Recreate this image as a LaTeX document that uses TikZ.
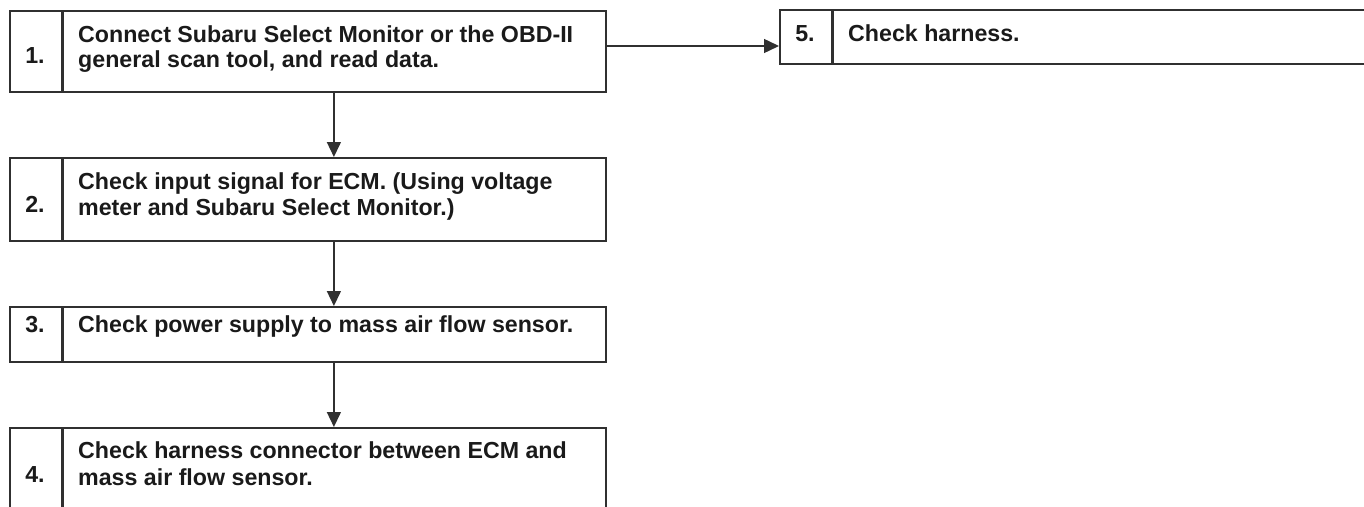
\documentclass[tikz,border=0pt]{standalone}
\usepackage{fontspec}
\setmainfont{Liberation Sans}
\usetikzlibrary{arrows.meta}
\definecolor{ln}{HTML}{303030}
\definecolor{tx}{HTML}{1A1A1A}
\begin{document}
\begin{tikzpicture}[x=1pt,y=-1pt,
  cellbox/.style={draw=ln,line width=1.8pt,inner sep=0pt,anchor=north west,minimum height=#1},
  numbox/.style={cellbox=#1,minimum width=52pt},
  textbox/.style={cellbox=#1,minimum width=544pt},
  divider/.style={draw=ln,line width=3pt},
  lbl/.style={text=tx,inner sep=0pt,font=\bfseries\fontsize{23.2}{26}\selectfont},
  conn/.style={draw=ln,line width=1.4pt,-{Triangle[length=15pt,width=14pt]}}
]
\clip (0,0) rectangle (1364,506);
% box 1
\node[numbox=81] (n1) at (9,10) {};
\node[textbox=81] (t1) at (61,10) {};
\draw[divider] (n1.north east) -- (n1.south east);
\node[lbl,anchor=base] (k1) at (35,63) {1.};
\node[lbl,anchor=base west] (a1) at (78,42) {Connect Subaru Select Monitor or the OBD-II};
\node[lbl,anchor=base west] (b1) at (78,67) {general scan tool, and read data.};
% box 2
\node[numbox=83] (n2) at (9,157) {};
\node[textbox=83] (t2) at (61,157) {};
\draw[divider] (n2.north east) -- (n2.south east);
\node[lbl,anchor=base] (k2) at (35,212) {2.};
\node[lbl,anchor=base west] (a2) at (78,189) {Check input signal for ECM. (Using voltage};
\node[lbl,anchor=base west] (b2) at (78,215) {meter and Subaru Select Monitor.)};
% box 3
\node[numbox=55] (n3) at (9,306) {};
\node[textbox=55] (t3) at (61,306) {};
\draw[divider] (n3.north east) -- (n3.south east);
\node[lbl,anchor=base] (k3) at (35,332) {3.};
\node[lbl,anchor=base west] (a3) at (78,332) {Check power supply to mass air flow sensor.};
% box 4
\node[numbox=110] (n4) at (9,427) {};
\node[textbox=110] (t4) at (61,427) {};
\draw[divider] (n4.north east) -- (n4.south east);
\node[lbl,anchor=base] (k4) at (35,482) {4.};
\node[lbl,anchor=base west] (a4) at (78,458) {Check harness connector between ECM and};
\node[lbl,anchor=base west] (b4) at (78,485) {mass air flow sensor.};
% box 5
\node[numbox=54] (n5) at (779,9) {};
\node[cellbox=54,minimum width=600pt] (t5) at (831,9) {};
\draw[divider] (n5.north east) -- (n5.south east);
\node[lbl,anchor=base] (k5) at (805,41) {5.};
\node[lbl,anchor=base west] (a5) at (848,41) {Check harness.};
% connectors
\coordinate (h) at (0,46);
\draw[conn] (t1.east |- h) -- (n5.west |- h);
\draw[conn] (t1.south) -- (t2.north);
\draw[conn] (t2.south) -- (t3.north);
\draw[conn] (t3.south) -- (t4.north);
\end{tikzpicture}
\end{document}
